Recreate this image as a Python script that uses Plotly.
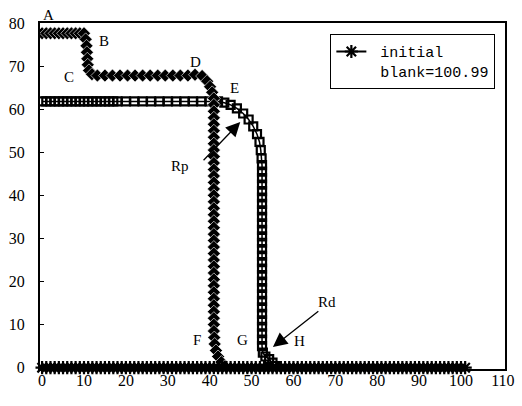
import plotly.graph_objects as go

# ---- data ----
blank_x = [0, 1, 2, 3, 4, 5, 6, 7, 8, 9, 10, 11, 12, 13, 14, 15, 16, 17, 18, 19,
           20, 21, 22, 23, 24, 25, 26, 27, 28, 29, 30, 31, 32, 33, 34, 35, 36, 37, 38, 39,
           40, 41, 42, 43, 44, 45, 46, 47, 48, 49, 50, 51, 52, 53, 54, 55, 56, 57, 58, 59,
           60, 61, 62, 63, 64, 65, 66, 67, 68, 69, 70, 71, 72, 73, 74, 75, 76, 77, 78, 79,
           80, 81, 82, 83, 84, 85, 86, 87, 88, 89, 90, 91, 92, 93, 94, 95, 96, 97, 98, 99,
           100, 100.99]
blank_y = [0, 0, 0, 0, 0, 0, 0, 0, 0, 0, 0, 0, 0, 0, 0, 0, 0, 0, 0, 0,
           0, 0, 0, 0, 0, 0, 0, 0, 0, 0, 0, 0, 0, 0, 0, 0, 0, 0, 0, 0,
           0, 0, 0, 0, 0, 0, 0, 0, 0, 0, 0, 0, 0, 0, 0, 0, 0, 0, 0, 0,
           0, 0, 0, 0, 0, 0, 0, 0, 0, 0, 0, 0, 0, 0, 0, 0, 0, 0, 0, 0,
           0, 0, 0, 0, 0, 0, 0, 0, 0, 0, 0, 0, 0, 0, 0, 0, 0, 0, 0, 0,
           0, 0]

diamond_x = [0, 1, 2, 3, 4, 5, 6, 7, 8, 9, 10,
             10.4, 10.6, 10.7, 10.8, 10.9, 11.2, 11.9, 13.2,
             15.0, 16.8, 18.6, 20.4, 22.2, 24.0, 25.8, 27.6, 29.4, 31.2, 33.0, 34.8, 36.5,
             38.2, 39.4, 40.1, 40.6,
             41.0, 41.0, 41.0, 41.0, 41.0, 41.0, 41.0, 41.0, 41.0, 41.0,
             41.0, 41.0, 41.0, 41.0, 41.0, 41.0, 41.0, 41.0, 41.0, 41.0,
             41.0, 41.0, 41.0, 41.0, 41.0, 41.0, 41.0, 41.0, 41.0, 41.0,
             41.0, 41.0, 41.0, 41.0, 41.0, 41.0, 41.0, 41.1, 41.2,
             41.5, 42.0, 42.8, 43.6]
diamond_y = [77.6, 77.6, 77.6, 77.6, 77.6, 77.6, 77.6, 77.6, 77.6, 77.6, 77.6,
             76.2, 74.7, 73.2, 71.7, 70.3, 69.0, 68.1, 67.8,
             67.8, 67.8, 67.8, 67.8, 67.8, 67.8, 67.8, 67.8, 67.8, 67.8, 67.8, 67.8, 68.0,
             67.7, 66.5, 65.2, 63.9,
             62.5, 61.0, 59.5, 58.0, 56.5, 55.0, 53.5, 52.0, 50.5, 49.0,
             47.5, 46.0, 44.5, 43.0, 41.5, 40.0, 38.5, 37.0, 35.5, 34.0,
             32.5, 31.0, 29.5, 28.0, 26.5, 25.0, 23.5, 22.0, 20.5, 19.0,
             17.5, 16.0, 14.5, 13.0, 11.5, 10.0, 8.5, 7.0, 5.5,
             4.0, 2.6, 1.3, 0.3]

square_x = [0, 1, 2, 3, 4, 5, 6, 7, 8, 9, 10, 11, 12, 13, 14, 15, 16, 17, 18,
            20, 22, 24, 26, 28, 30, 32, 34, 36, 38, 40, 42,
            43.5, 45.0, 46.5, 48.0, 49.3, 50.4, 51.3, 51.9, 52.2, 52.4,
            52.5, 52.5, 52.5, 52.5, 52.5, 52.5, 52.5, 52.5, 52.5, 52.5,
            52.5, 52.5, 52.5, 52.5, 52.5, 52.5, 52.5, 52.5, 52.5, 52.5,
            52.5, 52.5, 52.5, 52.5, 52.5, 52.5, 52.5, 52.5, 52.5,
            52.7, 53.3, 54.2, 55.0, 55.6]
square_y = [61.8, 61.8, 61.8, 61.8, 61.8, 61.8, 61.8, 61.8, 61.8, 61.8, 61.8, 61.8,
            61.8, 61.8, 61.8, 61.8, 61.8, 61.8, 61.8,
            61.8, 61.8, 61.8, 61.8, 61.8, 61.8, 61.8, 61.8, 61.8, 61.8, 61.8, 61.8,
            61.5, 61.0, 60.2, 59.0, 57.6, 56.0, 54.2, 52.4, 50.5, 48.6,
            47.0, 45.5, 44.0, 42.5, 41.0, 39.5, 38.0, 36.5, 35.0, 33.5,
            32.0, 30.5, 29.0, 27.5, 26.0, 24.5, 23.0, 21.5, 20.0, 18.5,
            17.0, 15.5, 14.0, 12.5, 11.0, 9.5, 8.0, 6.5, 5.0,
            3.5, 2.6, 2.0, 1.2, 0.4]

x_ticks = [0, 10, 20, 30, 40, 50, 60, 70, 80, 90, 100, 110]
y_ticks = [0, 10, 20, 30, 40, 50, 60, 70, 80]

point_labels = ["A", "B", "C", "D", "E", "F", "G", "H", "Rp", "Rd"]
label_x = [1.5, 14.7, 6.5, 36.5, 45.9, 37.0, 47.8, 61.5, 33.0, 68.0]
label_y = [81.8, 75.8, 67.5, 71.0, 65.0, 6.5, 6.5, 6.3, 46.9, 15.2]

arrow_head_x = [47.3, 55.1]
arrow_head_y = [57.0, 4.8]
arrow_tail_x = [38.2, 66.3]
arrow_tail_y = [47.8, 13.4]

legend_name = "\u00a0initial<br>\u00a0blank=100.99"

# ---- figure ----
fig = go.Figure()

fig.add_trace(go.Scatter(
    x=square_x, y=square_y, mode="lines+markers", showlegend=False,
    line=dict(color="black", width=1.5),
    marker=dict(symbol="square-open", size=8, color="black", line=dict(width=2.2, color="black")),
))
fig.add_trace(go.Scatter(
    x=diamond_x, y=diamond_y, mode="lines+markers", showlegend=False,
    line=dict(color="black", width=1.5),
    marker=dict(symbol="diamond", size=10, color="black", line=dict(width=0.6, color="white")),
))
fig.add_trace(go.Scatter(
    x=blank_x, y=blank_y, mode="lines+markers", name=legend_name,
    line=dict(color="black", width=2),
    marker=dict(symbol="asterisk-open", size=11, color="black", line=dict(width=2.2, color="black")),
    cliponaxis=False,
))

serif = "Liberation Serif"
y_lo, y_hi = -0.3, 80
for t, lx, ly in zip(point_labels, label_x, label_y):
    fig.add_annotation(x=lx, y=(ly - y_lo) / (y_hi - y_lo), xref="x", yref="paper",
                       xanchor="center", yanchor="middle",
                       text=t, showarrow=False,
                       font=dict(family=serif, size=15, color="black"))

for hx, hy, tx, ty in zip(arrow_head_x, arrow_head_y, arrow_tail_x, arrow_tail_y):
    fig.add_annotation(x=hx, y=hy, ax=tx, ay=ty, xref="x", yref="y", axref="x", ayref="y",
                       text="", showarrow=True, arrowhead=2, arrowsize=2.2, arrowwidth=1.3,
                       arrowcolor="black", standoff=0)

fig.update_layout(
    width=522, height=406,
    margin=dict(l=40, r=17, t=23, b=37),
    paper_bgcolor="white", plot_bgcolor="white",
    showlegend=True,
    legend=dict(x=0.624, y=0.968, xanchor="left", yanchor="top",
                bordercolor="black", borderwidth=1.2, bgcolor="white",
                valign="top",
                font=dict(family="Liberation Mono", size=15, color="black")),
    font=dict(family=serif, color="black"),
)
fig.update_xaxes(range=[-0.5, 110.5], tickvals=x_ticks, ticktext=[str(v) for v in x_ticks],
                 showgrid=False, zeroline=False, showline=True, mirror=True,
                 linecolor="black", linewidth=2, ticks="", automargin=False,
                 ticklabelstandoff=-4,
                 tickfont=dict(family=serif, size=16, color="black"))
fig.update_yaxes(range=[y_lo, y_hi], tickvals=y_ticks, ticktext=[str(v) for v in y_ticks],
                 showgrid=False, zeroline=False, showline=True, mirror=True,
                 linecolor="black", linewidth=2, ticks="inside", ticklen=4, tickcolor="black",
                 ticklabelstandoff=10, automargin=False,
                 tickfont=dict(family=serif, size=16, color="black"))

fig.write_html("out.html", config={"displayModeBar": False},
               post_script="document.body.style.margin='0';")
